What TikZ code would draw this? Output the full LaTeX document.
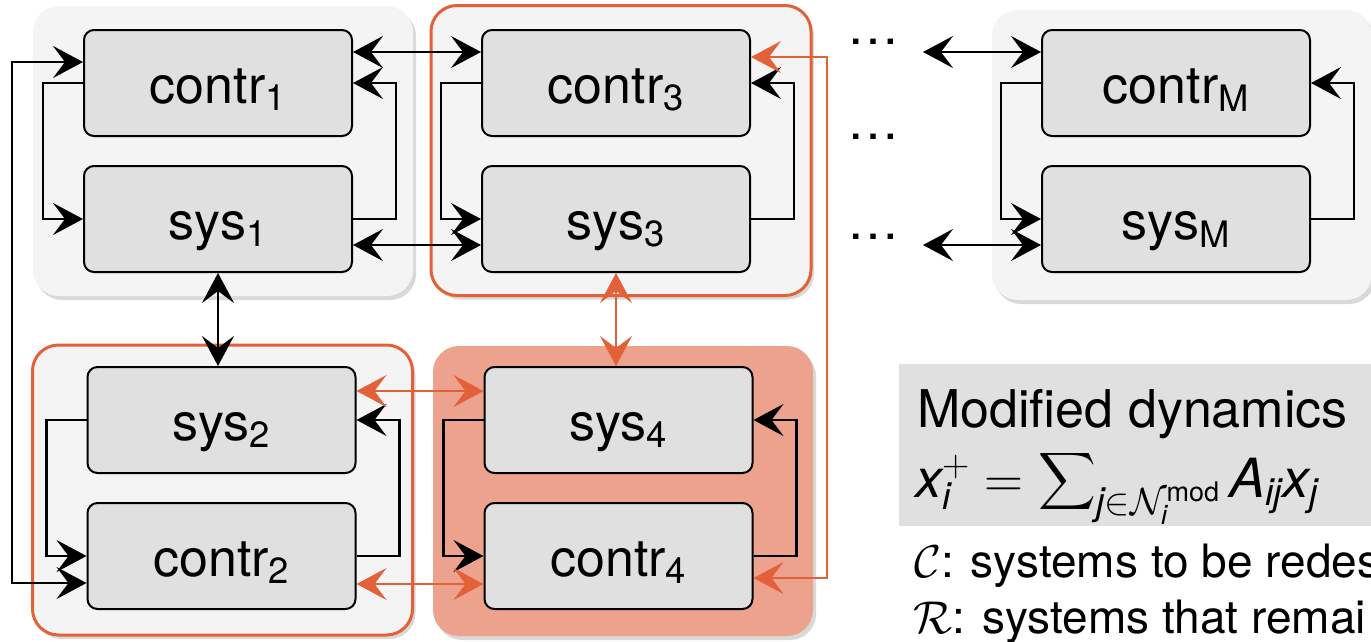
\RequirePackage{fix-cm}
\documentclass[tikz,border=0pt]{standalone}
\usepackage{amsmath}
\usepackage{fontspec}
\setmainfont{TeX Gyre Heros}
\usepackage{tikz}
\usetikzlibrary{arrows.meta,shadows}
\definecolor{redesign}{RGB}{227,97,56}
\definecolor{removed}{RGB}{237,162,142}
\definecolor{boxgray}{RGB}{224,224,224}
\definecolor{grpgray}{RGB}{244,244,244}
\font\sumfnt=cmex10 at 40pt
\newcommand{\bigsum}{\raisebox{44pt}{\sumfnt\char"58}}

\begin{document}
\begin{tikzpicture}[x=1pt, y=-1pt]
        \tikzset{every node/.style={font=\fontsize{52}{60}\selectfont}}
        \tikzset{grp/.style={rounded corners=26pt, fill=grpgray, minimum width=380pt, minimum height=290pt,
            drop shadow={shadow xshift=3pt, shadow yshift=-4pt, opacity=0.3}}}
        \tikzset{blk/.style={draw, line width=2pt, fill=boxgray, rounded corners=10pt,
            minimum width=268pt, minimum height=106pt, inner sep=0pt, text height=40pt, text depth=0pt}}
        \tikzset{tip/.tip={Stealth[length=30pt,width=32pt,inset=12pt]}}
        \clip (0,0) rectangle (1371,641);
        % groups
        \node[grp] (g1) at (223,151) {};
        \node[grp, draw=redesign, line width=3pt] (g3) at (621,150.5) {};
        \node[grp, draw=redesign, line width=3pt] (g2) at (222.5,490) {};
        \node[grp, fill=removed] (g4) at (623,491) {};
        \node[grp] (gM) at (1182,155) {};
        % controllers and systems
        \node[blk] (c1) at (218,83) {contr\textsubscript{1}};
        \node[blk] (s1) at (218,219) {sys\textsubscript{1}};
        \node[blk] (c3) at (616,83) {contr\textsubscript{3}};
        \node[blk] (s3) at (616,219) {sys\textsubscript{3}};
        \node[blk] (s2) at (221.5,420) {sys\textsubscript{2}};
        \node[blk] (c2) at (221.5,556) {contr\textsubscript{2}};
        \node[blk] (s4) at (618.5,420) {sys\textsubscript{4}};
        \node[blk] (c4) at (618.5,556) {contr\textsubscript{4}};
        \node[blk] (cM) at (1176,83) {contr\textsubscript{M}};
        \node[blk] (sM) at (1176,219) {sys\textsubscript{M}};
        \node (dA) at (873,42) {\ldots};
        \node (dB) at (873,137) {\ldots};
        \node (dC) at (873,237) {\ldots};
        \coordinate (eM1) at (923,52);
        \coordinate (eM2) at (923,245);
        % legend
        \node[fill=boxgray, minimum width=520pt, minimum height=162pt, anchor=north west, inner sep=0pt] (leg) at (899,364) {};
        \node[anchor=base west, inner sep=0pt] (dyn) at (917,427) {Modified dynamics};
        \node[anchor=base west, inner sep=0pt, font=\fontsize{54}{60}\selectfont] (eq) at (915,497)
            {$\textit{x}_{\textit{i}}^{+} = \mathop{\bigsum}\nolimits_{\textit{j}\in\mathcal{N}_{\textit{i}}^{\text{mod}}} \textit{A}_{\textit{ij}}\textit{x}_{\textit{j}}$};
        \node[anchor=base west, inner sep=0pt, font=\fontsize{46}{54}\selectfont] (cset) at (914,577) {$\mathcal{C}$: systems to be redes};
        \node[anchor=base west, inner sep=0pt, font=\fontsize{46}{54}\selectfont] (rset) at (913,633) {$\mathcal{R}$: systems that remai};
        % connections
        \tikzset{fback/.style={-tip, line width=2.5pt}}
        \tikzset{link/.style={tip-tip, line width=2.5pt}}
        \tikzset{olink/.style={link, draw=redesign, line width=2pt}}
        \foreach \up/\dn in {c1/s1, c3/s3, s2/c2, s4/c4, cM/sM}{
            \draw[fback] (\up.west) -- ++(-40,0) |- (\dn.west);
            \draw[fback] (\dn.east) -- ++(43,0) |- (\up.east);
        }
        \draw[link] (c1.west |- 0,62) -- (12,62) -- (12,583) -- (c2.west |- 0,583);
        \path (c1.east |- 0,52) edge[link] (c3.west |- 0,52);
        \path (s1.east |- 0,245) edge[link] (s3.west |- 0,245);
        \path (s1.south) edge[link] (s1.south |- s2.north);
        \path (eM1) edge[link] (cM.west |- eM1);
        \path (eM2) edge[link] (sM.west |- eM2);
        \path (s3.south) edge[olink] (s3.south |- s4.north);
        \path (s2.east |- 0,391) edge[olink] (s4.west |- 0,391);
        \path (c2.east |- 0,584) edge[olink] (c4.west |- 0,584);
        \draw[olink] (c3.east |- 0,57) -- (827,57) -- (827,578) -- (c4.east |- 0,578);
\end{tikzpicture}
\end{document}
